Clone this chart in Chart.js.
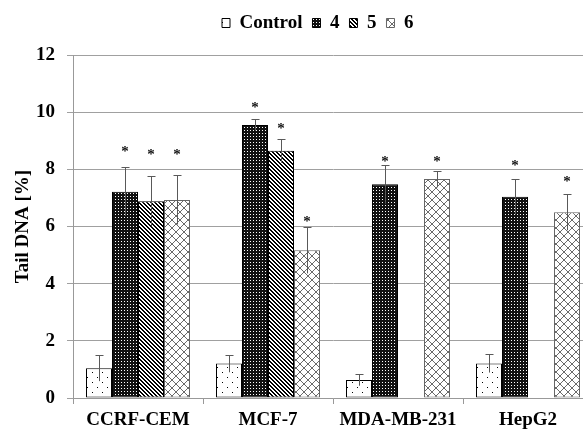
<!DOCTYPE html>
<html><head><meta charset="utf-8">
<script src="https://cdn.jsdelivr.net/npm/chart.js@4.4.1/dist/chart.umd.min.js"></script>
<style>html,body{margin:0;padding:0;background:#fff;overflow:hidden;width:583px;height:430px}canvas{display:block}</style>
</head><body><canvas id="c" width="600" height="430"></canvas>
<script>
// ---- data ----
const categories = ['CCRF-CEM', 'MCF-7', 'MDA-MB-231', 'HepG2'];
const seriesNames = ['Control', '4', '5', '6'];
const controlValues = [1.04, 1.21, 0.63, 1.21];
const compound4Values = [7.22, 9.55, 7.48, 7.04];
const compound5Values = [6.88, 8.65, null, null];
const compound6Values = [6.93, 5.17, 7.66, 6.50];
const controlErrors = [0.45, 0.31, 0.20, 0.32];
const compound4Errors = [0.85, 0.20, 0.68, 0.62];
const compound5Errors = [0.87, 0.42, null, null];
const compound6Errors = [0.86, 0.81, 0.29, 0.63];
const controlStars = [null, null, null, null];
const compound4Stars = [8.71, 10.26, 8.36, 8.21];
const compound5Stars = [8.60, 9.52, null, null];
const compound6Stars = [8.60, 6.26, 8.36, 7.65];
const yTicks = [0, 2, 4, 6, 8, 10, 12];
const yTitle = 'Tail DNA [%]';

// ---- patterns ----
function makePattern(w, h, draw) {
  const c = document.createElement('canvas');
  c.width = w; c.height = h;
  const g = c.getContext('2d');
  draw(g);
  return document.getElementById('c').getContext('2d').createPattern(c, 'repeat');
}
const patControl = makePattern(10, 10, g => {
  g.fillStyle = '#fff'; g.fillRect(0, 0, 10, 10);
  g.fillStyle = '#000'; g.fillRect(2, 2, 1, 1); g.fillRect(7, 7, 1, 1);
});
const pat4 = makePattern(3, 3, g => {
  g.fillStyle = '#111'; g.fillRect(0, 0, 3, 3);
  g.fillStyle = '#fff'; g.fillRect(1, 1, 1, 1);
});
const pat5 = makePattern(4, 4, g => {
  g.fillStyle = '#fff'; g.fillRect(0, 0, 4, 4);
  g.fillStyle = '#000';
  for (let y = 0; y < 4; y++) for (let x = 0; x < 4; x++) {
    const d = ((x - y) % 4 + 4) % 4;
    if (d === 0 || d === 1) g.fillRect(x, y, 1, 1);
  }
});
const pat6 = makePattern(8, 8, g => {
  g.fillStyle = '#fff'; g.fillRect(0, 0, 8, 8);
  g.fillStyle = '#6a6a6a';
  for (let i = 0; i < 8; i++) { g.fillRect(i, i, 1, 1); g.fillRect(7 - i, i, 1, 1); }
});

const FONT = "'Liberation Serif', 'Times New Roman', serif";
Chart.defaults.color = '#000';

const errorPlugin = {
  id: 'errorBars',
  afterDatasetsDraw(chart) {
    const ctx = chart.ctx, ys = chart.scales.y;
    chart.data.datasets.forEach((ds, i) => {
      const meta = chart.getDatasetMeta(i);
      meta.data.forEach((bar, j) => {
        const v = ds.data[j], e = ds.errors[j];
        if (v == null) return;
        const x = Math.round(bar.x) + 0.5;
        if (e != null) {
          const yt = Math.round(ys.getPixelForValue(v + e)) + 0.5;
          const yb = ys.getPixelForValue(v - e);
          ctx.save();
          ctx.strokeStyle = '#595959'; ctx.lineWidth = 1;
          ctx.beginPath();
          ctx.moveTo(x, yt); ctx.lineTo(x, yb);
          ctx.moveTo(x - 4, yt); ctx.lineTo(x + 4, yt);
          ctx.stroke();
          ctx.restore();
        }
        const s = ds.stars[j];
        if (s != null) {
          ctx.save();
          ctx.font = 'bold 15px ' + FONT;
          ctx.fillStyle = '#111';
          ctx.textAlign = 'center';
          ctx.textBaseline = 'alphabetic';
          const m = ctx.measureText('*');
          const yc = ys.getPixelForValue(s);
          ctx.fillText('*', bar.x, yc + (m.actualBoundingBoxAscent - m.actualBoundingBoxDescent) / 2);
          ctx.restore();
        }
      });
    });
  }
};

const legendShift = {
  id: 'legendShift',
  afterLayout(chart) {
    const l = chart.legend;
    if (!l) return;
    const pad = 10;
    const start = (l.left + pad + l.right - l.lineWidths[0]) / 2;
    const dx = 222 - start;
    const dy = -12.5;
    l.left += dx; l.right += dx; l.top += dy; l.bottom += dy;
  }
};

const valueSets = [controlValues, compound4Values, compound5Values, compound6Values];
const errorSets = [controlErrors, compound4Errors, compound5Errors, compound6Errors];
const starSets = [controlStars, compound4Stars, compound5Stars, compound6Stars];
const fills = [patControl, pat4, pat5, pat6];
const borders = ['#000', '#000', '#000', '#666'];

new Chart(document.getElementById('c'), {
  type: 'bar',
  data: {
    labels: categories,
    datasets: seriesNames.map((n, i) => ({
      label: n,
      data: valueSets[i],
      errors: errorSets[i],
      stars: starSets[i],
      backgroundColor: fills[i],
      borderColor: borders[i],
      borderWidth: 1,
      borderSkipped: false,
      categoryPercentage: 0.8,
      barPercentage: 1.0
    }))
  },
  options: {
    responsive: false,
    devicePixelRatio: 1,
    animation: false,
    layout: { padding: { top: 16, left: 0, right: 7, bottom: 0 } },
    plugins: {
      legend: {
        position: 'top',
        labels: {
          boxWidth: 8, boxHeight: 9, padding: 10,
          font: { family: FONT, size: 19, weight: 'bold' }, color: '#000'
        }
      },
      tooltip: { enabled: false }
    },
    scales: {
      x: {
        grid: { drawOnChartArea: false, drawTicks: true, tickLength: 6, color: '#999', offset: true },
        border: { color: '#999', width: 1 },
        ticks: { font: { family: FONT, size: 19, weight: 'bold' }, padding: 5, color: '#000', maxRotation: 0 },
        afterFit(s) { s.height = 32; }
      },
      y: {
        min: 0, max: 12,
        afterBuildTicks(s) { s.ticks = yTicks.map(v => ({ value: v })); },
        grid: { color: '#a0a0a0', tickLength: 6, drawTicks: true },
        border: { color: '#999', width: 1 },
        ticks: { font: { family: FONT, size: 19, weight: 'bold' }, padding: 12, color: '#000' },
        title: { display: true, text: yTitle, font: { family: FONT, size: 19, weight: 'bold' }, color: '#000', padding: { top: 11.6, bottom: 0 } },
        afterFit(s) { s.width = 73; }
      }
    }
  },
  plugins: [errorPlugin, legendShift]
});
</script>
</body></html>
